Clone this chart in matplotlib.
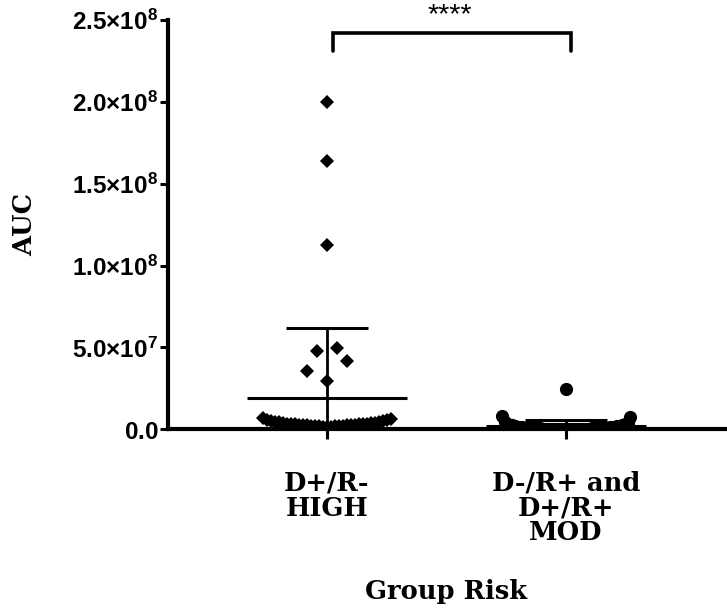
import matplotlib
matplotlib.use("Agg")
import matplotlib.pyplot as plt
import numpy as np
from matplotlib.ticker import FixedLocator, FixedFormatter

# data (AUC per patient, in data order)
categories = ["D+/R-\nHIGH", "D-/R+ and\nD+/R+\nMOD"]
high_auc = [2.00e8, 1.64e8, 1.125e8,
            2.95e7, 4.97e7, 4.79e7, 4.17e7, 3.56e7,
            1.5e6, 1.6e6, 1.7e6, 1.8e6, 1.9e6, 2.0e6, 2.1e6, 2.2e6, 2.3e6, 2.4e6, 2.5e6,
            2.6e6, 2.7e6, 2.8e6, 2.9e6, 3.0e6, 3.1e6, 3.2e6, 3.3e6, 3.4e6, 3.5e6, 3.6e6,
            3.8e6, 4.0e6, 4.2e6, 4.4e6, 4.6e6, 4.9e6, 5.2e6, 5.5e6, 5.9e6, 6.3e6, 6.9e6]
mod_auc = [2.44e7,
           0.0, 0.0, 0.0, 0.0, 1e5, 1e5, 1e5, 1e5, 2e5, 2e5, 2e5, 2e5, 3e5, 3e5, 3e5, 3e5,
           4e5, 4e5, 4e5, 5e5, 5e5, 5e5, 6e5, 6e5, 7e5, 7e5, 8e5, 8e5, 9e5, 9e5, 1.0e6, 1.0e6,
           1.1e6, 1.2e6, 1.3e6, 1.4e6, 1.5e6, 1.6e6, 1.7e6, 1.8e6,
           2.0e6, 2.2e6, 2.4e6, 2.6e6, 2.9e6, 3.2e6, 3.5e6, 3.9e6, 4.4e6,
           7.7e6, 8.3e6]
y_ticks = [0, 5e7, 1e8, 1.5e8, 2e8, 2.5e8]
y_tick_labels = [r"$0.0$", r"$5.0{\times}10^{7}$", r"$1.0{\times}10^{8}$",
                 r"$1.5{\times}10^{8}$", r"$2.0{\times}10^{8}$", r"$2.5{\times}10^{8}$"]
significance = "****"

plt.rcParams["mathtext.fontset"] = "custom"
plt.rcParams["mathtext.rm"] = "Liberation Sans:bold"
plt.rcParams["mathtext.bf"] = "Liberation Sans:bold"
plt.rcParams["mathtext.default"] = "rm"

SERIF = ["DejaVu Serif"]


def column_offsets(values, gap, step, half_width):
    # simple scatter layout: group close values, spread them sideways in data order
    vals = np.asarray(values, dtype=float)
    order = np.argsort(vals, kind="stable")
    clusters = [[order[0]]]
    for prev, cur in zip(order[:-1], order[1:]):
        if vals[cur] - vals[prev] < gap:
            clusters[-1].append(cur)
        else:
            clusters.append([cur])
    offsets = np.zeros(len(vals))
    for members in clusters:
        members = sorted(members)
        d = min(step, half_width / max(1, len(members) // 2))
        for j, idx in enumerate(members):
            k = (j + 1) // 2
            offsets[idx] = (1 if j % 2 == 1 else -1) * k * d
    return offsets


fig = plt.figure(figsize=(7.27, 6.08), dpi=100, facecolor="white")
ax = fig.add_axes([0.2311, 0.2939, 0.7662, 0.6732])

groups = [(high_auc, "D", 7.4), (mod_auc, "o", 9.5)]
for pos, (vals, marker, ms) in enumerate(groups, start=1):
    vals = np.asarray(vals)
    xs = pos + column_offsets(vals, gap=7.3e6, step=0.042, half_width=0.268)
    ax.plot(xs, vals, linestyle="none", marker=marker, ms=ms, color="black",
            markeredgewidth=0, zorder=3)
    mean, sd = vals.mean(), vals.std(ddof=1)
    ax.hlines(mean, pos - 0.335, pos + 0.335, color="black", lw=2.2, zorder=4)
    ax.vlines(pos, mean - sd, mean + sd, color="black", lw=2.0, zorder=4)
    ax.hlines([mean - sd, mean + sd], pos - 0.17, pos + 0.17, color="black", lw=2.2, zorder=4)

# significance bracket
ax.plot([1.025, 1.025, 2.021, 2.021], [2.31e8, 2.42e8, 2.42e8, 2.31e8], color="black",
        lw=2.6, clip_on=False, solid_joinstyle="miter", solid_capstyle="round")
ax.text(1.515, 2.485e8, significance, ha="center", va="baseline", fontsize=20.5,
        family="Liberation Sans", clip_on=False)

ax.set_xlim(0.335, 2.665)
ax.set_ylim(0, 2.5e8)
ax.yaxis.set_major_locator(FixedLocator(y_ticks))
ax.yaxis.set_major_formatter(FixedFormatter(y_tick_labels))
ax.set_xticks([1, 2])
ax.set_xticklabels(categories, fontsize=18.5, fontweight="bold", family=SERIF,
                   linespacing=0.98, va="top")
ax.tick_params(axis="y", length=6, width=2.2, pad=1, labelsize=17.5)
ax.tick_params(axis="x", length=7, width=2.2, pad=23)

for side in ["top", "right"]:
    ax.spines[side].set_visible(False)
for side in ["left", "bottom"]:
    ax.spines[side].set_linewidth(3)

ax.set_ylabel("AUC", fontsize=18.5, fontweight="bold", family=SERIF, labelpad=25)
ax.set_xlabel("Group Risk", fontsize=18.5, fontweight="bold", family=SERIF, labelpad=24)

fig.savefig("out.png", dpi=100, facecolor="white")
